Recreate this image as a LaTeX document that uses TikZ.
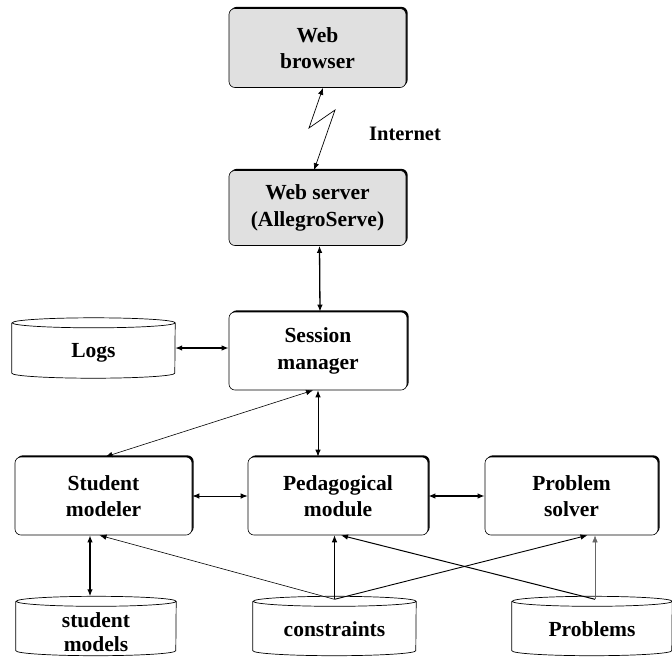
\documentclass[tikz,border=0pt]{standalone}
\usepackage{fontspec}
\setmainfont{Liberation Serif}
\usetikzlibrary{arrows.meta,shadows}
\definecolor{boxgray}{RGB}{224,224,224}
\tikzset{
  box/.style={draw, line width=0.6pt, rounded corners=6pt, fill=white,
    minimum width=#1, minimum height=78pt, inner sep=0pt, align=center,
    font=\bfseries\fontsize{21.5}{26.5}\selectfont,
    drop shadow={shadow xshift=1.6pt, shadow yshift=1.6pt, fill=black, opacity=1}},
  graybox/.style={box=#1, fill=boxgray},
  cylnode/.style={minimum width=#1, minimum height=60pt, inner sep=0pt, align=center,
    font=\bfseries\fontsize{21.5}{26.5}\selectfont},
  cylline/.style={draw, line width=0.7pt},
  arr/.style={{Latex[length=7pt,width=5.5pt]}-{Latex[length=7pt,width=5.5pt]}, line width=#1},
  arr/.default=1pt,
  one/.style={-{Latex[length=7pt,width=5.5pt]}, line width=#1},
  one/.default=0.6pt,
  lbl/.style={font=\bfseries\fontsize{20.5}{24}\selectfont}
}
% cylinder outline around a rectangle node #1 with half width #2
\newcommand\drawcyl[2]{%
  \draw[cylline] ([yshift=-5pt]#1.north west) -- ([yshift=5pt]#1.south west)
     arc[start angle=180,end angle=360,x radius=#2,y radius=5pt]
     -- ([yshift=-5pt]#1.north east)
     arc[start angle=0,end angle=360,x radius=#2,y radius=5pt];
}
\begin{document}
\begin{tikzpicture}[x=1pt,y=1pt]
\useasboundingbox (0,0) rectangle (672,-657);
\clip (0,0) rectangle (672,-657);

% boxes
\node[graybox=177pt, minimum height=79pt] (browser) at (317.5,-48) {Web\\browser};
\node[graybox=177pt, minimum height=75pt] (server) at (317.5,-208) {Web server\\(AllegroServe)};
\node[box=178pt] (session) at (318,-351) {Session\\manager};
\node[box=177pt] (student) at (103.5,-496) {Student\\modeler};
\node[box=180pt] (peda) at (338,-496) {Pedagogical\\module};
\node[box=173pt] (solver) at (571.5,-496) {Problem\\solver};

% cylinders
\node[cylnode=163pt] (logs) at (93.5,-348) {\raisebox{-9pt}[0pt][0pt]{Logs}};
\drawcyl{logs}{81.5pt}
\node[cylnode=160pt, minimum height=59pt] (smodels) at (96,-626) {};
\drawcyl{smodels}{80pt}
\node[font=\bfseries\fontsize{21.5}{24.5}\selectfont, align=center, inner sep=0pt] (smtext) at (96,-632) {student\\models};
\node[cylnode=163pt, minimum height=59pt] (constraints) at (334.5,-626) {\raisebox{-10pt}[0pt][0pt]{constraints}};
\drawcyl{constraints}{81.5pt}
\node[cylnode=160pt, minimum height=59pt] (problems) at (592,-626) {\raisebox{-10pt}[0pt][0pt]{Problems}};
\drawcyl{problems}{80pt}

% Internet link
\node[lbl] (internet) at (405,-134) {Internet};
\coordinate (z1) at (309,-128);
\coordinate (z2) at (335,-110);
\draw[arr=0.7pt] ([xshift=5.5pt]browser.south) -- (z1) -- (z2) -- ([xshift=-3.5pt]server.north);

% connectors
\draw[arr=1.3pt] ([xshift=2pt]server.south) -- ([xshift=2pt]session.north);
\draw[arr=1.3pt] (logs.east) -- (session.west |- logs.east);
\draw[arr=1pt] (session.south) -- (session.south |- peda.north);
\draw[arr=0.6pt] ([xshift=-5pt]session.south) -- ([xshift=2pt]student.north);
\draw[arr=1pt] (student.east) -- (peda.west);
\draw[arr=1.4pt] (peda.east) -- (solver.west);
\draw[arr=1.3pt] ([xshift=-6pt]smodels.north) -- ([xshift=-6pt]student.south -| smodels.north);

\coordinate (ctop) at ([yshift=-3pt]constraints.north);
\coordinate (ptop) at ([xshift=3pt,yshift=-3pt]problems.north);
\draw[one=0.6pt] (ctop) -- ([xshift=-4pt]student.south);
\draw[one=0.7pt] (ctop) -- (ctop |- peda.south);
\draw[one=0.9pt] (ctop) -- ([xshift=16pt]solver.south);
\draw[one=1pt] (ptop) -- ([xshift=3pt]peda.south);
\draw[one=0.6pt, draw=black!60] (ptop) -- (ptop |- solver.south);
\end{tikzpicture}
\end{document}
